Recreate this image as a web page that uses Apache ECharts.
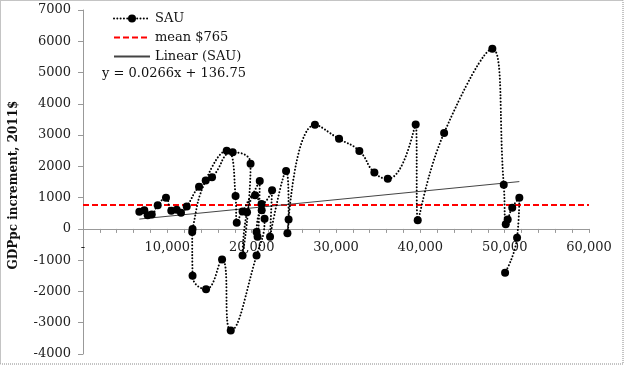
<!DOCTYPE html>
<html>
<head>
<meta charset="utf-8">
<script src="https://cdn.jsdelivr.net/npm/echarts@6/dist/echarts.min.js"></script>
<style>
html,body{margin:0;padding:0;background:#fff;}
#chart{width:625px;height:365px;}
</style>
</head>
<body>
<div id="chart"></div>
<script>
// SAU data in time order: GDP per capita (x, 2011$) and yearly increment (y)
const sauGdppc = [6680, 7270, 7670, 8150, 8860, 9840, 10470, 11110, 11620, 12300,
  13760, 15300, 17750, 19870, 18920, 19450, 20960, 20700, 20580, 21190, 21530, 20580,
  17520, 16490, 14590, 12990, 12950, 12990, 14550, 17040, 18090, 18230, 18920, 20400,
  21170, 22420, 22180, 24080, 24380, 24240, 27500, 30360, 32770, 34550, 36140, 39450,
  39690, 42820, 48540, 49890, 50130, 50360, 50900, 51740, 51470, 50050];
const sauIncrement = [550, 600, 440, 460, 760, 1000, 580, 610, 520, 720,
  1350, 1650, 2450, 2080, -850, 530, 1530, -250, -100, 600, 325, -850,
  -3250, -975, -1930, -1500, -100, 0, 1550, 2500, 1050, 200, 560, 1080,
  800, 1240, -250, 1850, 300, -140, 3330, 2880, 2490, 1800, 1600, 3340,
  280, 3070, 5760, 1410, 145, 300, 680, 1000, -280, -1400];
const meanValue = 765;
const trendSlope = 0.0266;
const trendIntercept = 136.75;
const seriesNames = ['SAU', 'mean $765', 'Linear (SAU)'];
const equationText = 'y = 0.0266x + 136.75';
const yTitle = 'GDPpc increment, 2011$';
const xMin = 0, xMax = 60000, yMin = -4000, yMax = 7000;

const FONT = 'DejaVu Serif';
const GRID = {left: 83, right: 36, top: 10, bottom: 11};
const gridH = 365 - GRID.top - GRID.bottom;
const xAxisOffset = -(0 - yMin) / (yMax - yMin) * gridH;

const sauData = sauGdppc.map((x, i) => [x, sauIncrement[i]]);
const xLo = Math.min(...sauGdppc), xHi = Math.max(...sauGdppc);
const trendData = [[xLo, trendSlope * xLo + trendIntercept], [xHi, trendSlope * xHi + trendIntercept]];
const meanData = [[xMin, meanValue], [xMax, meanValue]];

const chart = echarts.init(document.getElementById('chart'), null, {renderer: 'canvas'});
chart.setOption({
  animation: false,
  backgroundColor: '#fff',
  textStyle: {fontFamily: FONT},
  grid: Object.assign({outerBoundsMode: 'none', containLabel: false}, GRID),
  xAxis: {
    type: 'value', min: xMin, max: xMax, interval: 2000,
    position: 'bottom', offset: xAxisOffset,
    axisLine: {onZero: false, lineStyle: {color: '#999', width: 1}},
    axisTick: {show: true, length: 4, lineStyle: {color: '#999'}},
    splitLine: {show: false},
    axisLabel: {
      margin: 12, color: '#222', fontFamily: FONT, fontSize: 13,
      showMinLabel: true, showMaxLabel: true,
      formatter: v => v === 0 ? '-' : (v % 10000 === 0 ? v.toLocaleString('en-US') : '')
    }
  },
  yAxis: {
    type: 'value', min: yMin, max: yMax, interval: 1000,
    axisLine: {show: true, onZero: false, lineStyle: {color: '#999', width: 1}},
    axisTick: {show: true, length: 5, lineStyle: {color: '#999'}},
    splitLine: {show: false},
    axisLabel: {margin: 12, color: '#222', fontFamily: FONT, fontSize: 13, formatter: v => String(v)}
  },
  legend: {
    data: [
      {name: seriesNames[0]},
      {name: seriesNames[1], itemStyle: {opacity: 0}},
      {name: seriesNames[2], itemStyle: {opacity: 0}}
    ],
    orient: 'vertical', left: 108, top: 6,
    itemWidth: 36, itemHeight: 10, itemGap: 4,
    textStyle: {fontFamily: FONT, fontSize: 13, color: '#111', lineHeight: 15}
  },
  graphic: [
    {type: 'rect', silent: true, shape: {x: 0.5, y: 0.5, width: 622.5, height: 363.5},
     style: {fill: 'none', stroke: '#888', lineWidth: 1, lineDash: [1, 1]}},
    {type: 'text', left: 102, top: 67, style: {text: equationText, font: '13px "DejaVu Serif"', fill: '#111'}},
    {type: 'text', x: 14, y: 185, rotation: Math.PI / 2,
     style: {text: yTitle, font: 'bold 12px "DejaVu Serif"', fill: '#111', align: 'center', verticalAlign: 'middle'}}
  ],
  series: [
    {
      name: seriesNames[0], type: 'line', data: sauData, smooth: 0.5,
      symbol: 'circle', symbolSize: 8,
      itemStyle: {color: '#000'},
      lineStyle: {color: '#000', width: 2, type: [0.01, 3.3], cap: 'round'},
      z: 5
    },
    {
      name: seriesNames[1], type: 'line', data: meanData, symbol: 'none',
      lineStyle: {color: '#ff0000', width: 2, type: [6, 3]},
      itemStyle: {color: '#ff0000'}, z: 3
    },
    {
      name: seriesNames[2], type: 'line', data: trendData, symbol: 'none',
      lineStyle: {color: '#444', width: 1}, itemStyle: {color: '#444'}, z: 4
    }
  ]
});
</script>
</body>
</html>
